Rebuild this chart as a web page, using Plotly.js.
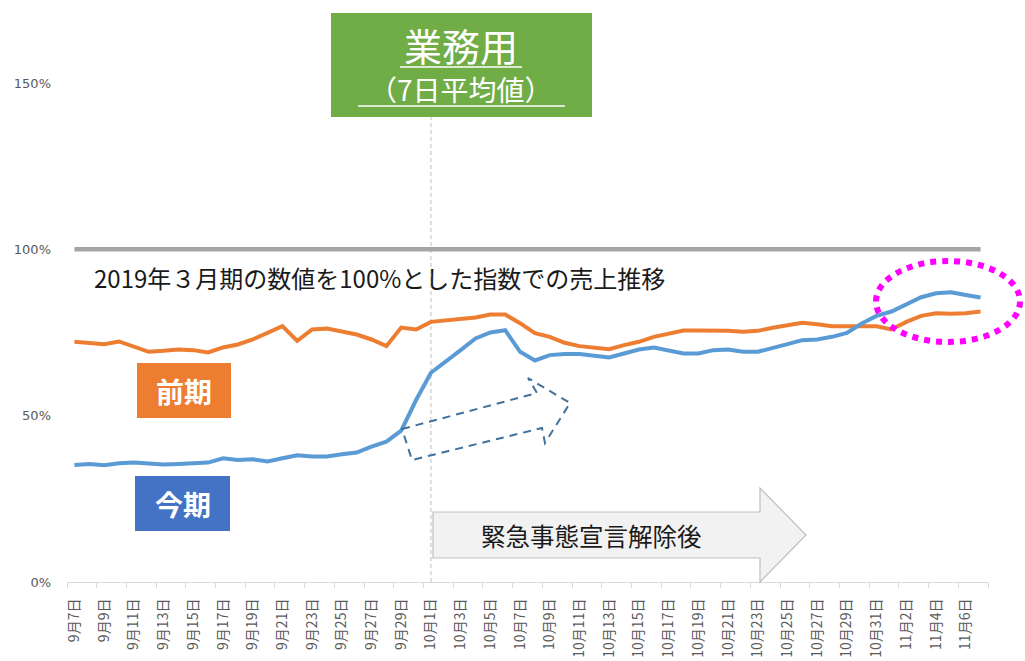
<!DOCTYPE html>
<html>
<head>
<meta charset="utf-8">
<script src="https://cdn.plot.ly/plotly-3.0.1.min.js"></script>
<style>html,body{margin:0;padding:0;background:#fff;}#chart{width:1025px;height:661px;}</style>
</head>
<body>
<div id="chart"></div>
<script>
// ---- data ----
var dates = [
  "9月7日","9月8日","9月9日","9月10日","9月11日","9月12日","9月13日","9月14日","9月15日","9月16日",
  "9月17日","9月18日","9月19日","9月20日","9月21日","9月22日","9月23日","9月24日","9月25日","9月26日",
  "9月27日","9月28日","9月29日","9月30日",
  "10月1日","10月2日","10月3日","10月4日","10月5日","10月6日","10月7日","10月8日","10月9日","10月10日",
  "10月11日","10月12日","10月13日","10月14日","10月15日","10月16日","10月17日","10月18日","10月19日","10月20日",
  "10月21日","10月22日","10月23日","10月24日","10月25日","10月26日","10月27日","10月28日","10月29日","10月30日",
  "10月31日",
  "11月1日","11月2日","11月3日","11月4日","11月5日","11月6日","11月7日"
];
var prevPeriod = [
  72.2,71.8,71.5,72.3,70.9,69.2,69.5,69.9,69.7,69.0,
  70.5,71.4,72.9,74.9,76.9,72.5,75.9,76.2,75.2,74.4,
  72.9,70.9,76.5,75.9,78.2,78.7,79.2,79.5,80.4,80.4,
  77.8,74.8,73.7,71.9,70.9,70.5,70.0,71.2,72.2,73.7,
  74.7,75.6,75.6,75.6,75.5,75.2,75.5,76.4,77.2,77.9,
  77.5,76.9,76.9,76.9,76.9,75.9,78.2,80.0,80.8,80.6,
  80.8,81.3
];
var currPeriod = [
  35.2,35.5,35.1,35.7,35.9,35.5,35.3,35.5,35.7,35.9,
  37.2,36.7,36.9,36.2,37.2,38.1,37.7,37.7,38.4,38.9,
  40.7,42.2,45.5,54.7,62.9,66.2,69.7,73.2,75.0,75.7,
  69.2,66.6,68.2,68.5,68.5,68.0,67.5,68.7,69.9,70.5,
  69.7,68.7,68.7,69.7,69.9,69.2,69.2,70.5,71.5,72.7,
  72.9,73.7,74.9,77.7,80.0,81.3,83.3,85.6,86.8,87.1,
  86.3,85.5
];
var baseline = dates.map(function(){ return 100; });
var yTickVals = [0, 50, 100, 150];
var yTickText = ["0%", "50%", "100%", "150%"];
var liftDate = "10月1日";

// ---- layout helpers (pixel -> paper) ----
var L = 67, R = 988, T = 83, B = 582;
function px(x){ return (x - L) / (R - L); }
function py(y){ return (B - y) / (B - T); }
function path(pts){
  return pts.map(function(p, i){ return (i ? "L" : "M") + px(p[0]).toFixed(5) + "," + py(p[1]).toFixed(5); }).join(" ") + " Z";
}

var JP = '"Noto Sans CJK JP", "Noto Sans", sans-serif';

var traces = [
  {x: dates, y: baseline, type: "scatter", mode: "lines", line: {color: "#A5A5A5", width: 4.5}, hoverinfo: "skip", name: "基準"},
  {x: dates, y: prevPeriod, type: "scatter", mode: "lines", line: {color: "#ED7D31", width: 4}, name: "前期"},
  {x: dates, y: currPeriod, type: "scatter", mode: "lines", line: {color: "#5B9BD5", width: 4}, name: "今期"}
];

var shapes = [
  {type: "line", xref: "x", yref: "paper", x0: dates.indexOf(liftDate), x1: dates.indexOf(liftDate), y0: 0, y1: py(117),
   line: {color: "#BFBFBF", width: 1, dash: "4px,3px"}, layer: "below"},
  {type: "rect", xref: "paper", yref: "paper", x0: px(331), x1: px(592), y0: py(117), y1: py(13),
   fillcolor: "#70AD47", line: {width: 0}},
  {type: "line", xref: "paper", yref: "paper", x0: px(400), x1: px(522), y0: py(67), y1: py(67), line: {color: "#FFFFFF", width: 1.5}},
  {type: "line", xref: "paper", yref: "paper", x0: px(358), x1: px(565), y0: py(106), y1: py(106), line: {color: "#FFFFFF", width: 1.5}},
  {type: "rect", xref: "paper", yref: "paper", x0: px(137), x1: px(231), y0: py(418), y1: py(363), fillcolor: "#ED7D31", line: {width: 0}},
  {type: "rect", xref: "paper", yref: "paper", x0: px(135), x1: px(230), y0: py(531), y1: py(476), fillcolor: "#4472C4", line: {width: 0}},
  {type: "path", xref: "paper", yref: "paper",
   path: path([[402,429],[537,393],[528,378],[570,403],[545,443],[542,428],[412,460]]),
   line: {color: "#41719C", width: 2, dash: "8px,6px"}, fillcolor: "rgba(0,0,0,0)"},
  {type: "path", xref: "paper", yref: "paper",
   path: path([[433,512],[760,512],[760,488],[806,535],[760,582],[760,558],[433,558]]),
   line: {color: "#BFBFBF", width: 1.2}, fillcolor: "#F2F2F2"},
  {type: "circle", xref: "paper", yref: "paper", x0: px(876), x1: px(1020), y0: py(342), y1: py(261),
   line: {color: "#FF00FF", width: 6, dash: "dot"}, fillcolor: "rgba(0,0,0,0)"}
];

var annotations = [
  {xref: "paper", yref: "paper", x: px(461), y: py(45), text: "業務用", showarrow: false,
   xanchor: "center", yanchor: "middle", font: {family: JP, size: 38, color: "#FFFFFF"}},
  {xref: "paper", yref: "paper", x: px(461), y: py(89), text: "（7日平均値）", showarrow: false,
   xanchor: "center", yanchor: "middle", font: {family: JP, size: 28, color: "#FFFFFF"}},
  {xref: "paper", yref: "paper", x: px(92), y: py(277), text: "2019年３月期の数値を100%とした指数での売上推移", showarrow: false,
   xanchor: "left", yanchor: "middle", font: {family: JP, size: 24, color: "#1A1A1A"}},
  {xref: "paper", yref: "paper", x: px(184), y: py(391), text: "<b>前期</b>", showarrow: false,
   xanchor: "center", yanchor: "middle", font: {family: JP, size: 28, color: "#FFFFFF"}},
  {xref: "paper", yref: "paper", x: px(183), y: py(504), text: "<b>今期</b>", showarrow: false,
   xanchor: "center", yanchor: "middle", font: {family: JP, size: 28, color: "#FFFFFF"}},
  {xref: "paper", yref: "paper", x: px(591), y: py(535), text: "緊急事態宣言解除後", showarrow: false,
   xanchor: "center", yanchor: "middle", font: {family: JP, size: 24.5, color: "#1A1A1A"}}
];

var layout = {
  width: 1025, height: 661,
  margin: {l: L, r: 1025 - R, t: T, b: 661 - B, pad: 0},
  paper_bgcolor: "#FFFFFF", plot_bgcolor: "#FFFFFF",
  showlegend: false,
  xaxis: {
    type: "category", range: [-0.5, dates.length - 0.5], fixedrange: true,
    tickmode: "linear", tick0: 0, dtick: 2, tickson: "boundaries",
    ticks: "outside", ticklen: 5, tickcolor: "#D9D9D9", tickwidth: 1,
    showline: true, linecolor: "#D9D9D9", linewidth: 1,
    showgrid: false, zeroline: false, tickangle: -90, ticklabelstandoff: 10,
    tickfont: {family: JP, size: 14, color: "#595959"}
  },
  yaxis: {
    range: [0, 150], tickmode: "array", tickvals: yTickVals, ticktext: yTickText,
    showgrid: false, zeroline: false, showline: false, ticks: "", ticklabelstandoff: 15,
    tickfont: {family: '"DejaVu Sans", sans-serif', size: 13, color: "#595959"}, fixedrange: true
  },
  shapes: shapes,
  annotations: annotations
};

Plotly.newPlot("chart", traces, layout, {displayModeBar: false, staticPlot: true});
</script>
</body>
</html>
